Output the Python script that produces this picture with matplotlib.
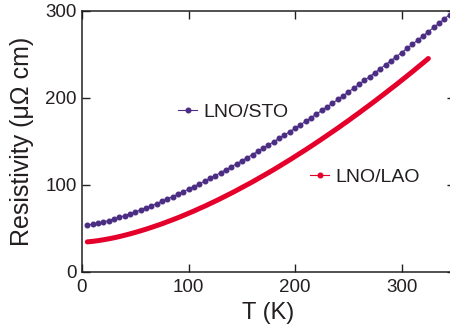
import matplotlib
matplotlib.use("Agg")
import matplotlib.pyplot as plt

plt.rcParams['font.family'] = ['Liberation Sans', 'DejaVu Sans']

# LNO/STO data (T in K, resistivity in µΩ cm)
T_sto = [5, 10, 15, 20, 25, 30, 35, 40, 45, 50, 55, 60, 65, 70, 75, 80, 85, 90, 95,
         100, 105, 110, 115, 120, 125, 130, 135, 140, 145, 150, 155, 160, 165, 170,
         175, 180, 185, 190, 195, 200, 205, 210, 215, 220, 225, 230, 235, 240, 245,
         250, 255, 260, 265, 270, 275, 280, 285, 290, 295, 300, 305, 310, 315, 320,
         325, 330, 335, 340, 345]
rho_sto = [53.6, 54.6, 55.9, 57.3, 58.9, 60.6, 62.5, 64.5, 66.5, 68.7, 71.0, 73.4,
           75.8, 78.3, 80.9, 83.6, 86.4, 89.2, 92.1, 95.0, 98.0, 101.1, 104.2, 107.4,
           110.6, 113.9, 117.3, 120.7, 124.1, 127.6, 131.2, 134.8, 138.4, 142.1, 145.8,
           149.6, 153.4, 157.3, 161.2, 165.2, 169.1, 173.2, 177.3, 181.4, 185.5, 189.7,
           193.9, 198.2, 202.5, 206.8, 211.2, 215.7, 220.1, 224.6, 229.1, 233.7, 238.3,
           242.9, 247.5, 252.2, 256.9, 261.7, 266.5, 271.3, 276.1, 281.0, 285.9, 290.9,
           295.9]

# LNO/LAO data
T_lao = [5, 10, 15, 20, 25, 30, 35, 40, 45, 50, 55, 60, 65, 70, 75, 80, 85, 90, 95,
         100, 105, 110, 115, 120, 125, 130, 135, 140, 145, 150, 155, 160, 165, 170,
         175, 180, 185, 190, 195, 200, 205, 210, 215, 220, 225, 230, 235, 240, 245,
         250, 255, 260, 265, 270, 275, 280, 285, 290, 295, 300, 305, 310, 315, 320, 325]
rho_lao = [34.3, 34.9, 35.7, 36.7, 37.8, 39.0, 40.4, 41.9, 43.5, 45.2, 47.0, 48.9,
           50.9, 53.0, 55.1, 57.4, 59.7, 62.1, 64.6, 67.2, 69.8, 72.6, 75.3, 78.2,
           81.1, 84.1, 87.2, 90.3, 93.5, 96.8, 100.1, 103.4, 106.9, 110.4, 113.9,
           117.5, 121.2, 125.0, 128.7, 132.6, 136.5, 140.4, 144.4, 148.5, 152.6,
           156.8, 161.0, 165.2, 169.6, 173.9, 178.4, 182.8, 187.4, 191.9, 196.5,
           201.2, 205.9, 210.7, 215.4, 220.3, 225.2, 230.1, 235.2, 240.2, 245.3]

x_ticks = [0, 100, 200, 300]
y_ticks = [0, 100, 200, 300]
labels = ["LNO/STO", "LNO/LAO"]

purple = "#4b2d83"
red = "#e5002b"
ink = "#231f20"

fig = plt.figure(figsize=(4.5, 3.31), dpi=100)
ax = fig.add_axes([0.1822, 0.1792, 0.8289, 0.7876])

l_sto, = ax.plot(T_sto, rho_sto, color=purple, lw=0.8, marker='o', ms=3.3,
                 mec=purple, mfc=purple)
ax.plot(T_lao, rho_lao, color=red, lw=3.6, solid_capstyle='round')
l_lao_h, = ax.plot([], [], color=red, lw=0.8, marker='o', ms=3.3)

ax.set_xlim(0, 350)
ax.set_ylim(0, 300)
ax.set_xticks(x_ticks)
ax.set_yticks(y_ticks)

for s in ax.spines.values():
    s.set_linewidth(1.1)
    s.set_color(ink)
ax.tick_params(direction='in', top=True, right=True, length=5.8, width=1.0,
               labelsize=13.5, colors=ink)
ax.tick_params(axis='y', pad=3.6)
ax.tick_params(axis='x', pad=5.5)
ax.set_xlabel("T (K)", fontsize=17, color=ink, labelpad=4)
ax.set_ylabel("Resistivity (\u03bc\u03a9 cm)", fontsize=18, color=ink, labelpad=8)

leg1 = ax.legend([l_sto], [labels[0]], loc='center left', bbox_to_anchor=(0.257, 0.6126),
                 frameon=False, fontsize=14, handlelength=1.0, handletextpad=0.3,
                 borderpad=0, borderaxespad=0, labelcolor=ink)
ax.add_artist(leg1)
ax.legend([l_lao_h], [labels[1]], loc='center left', bbox_to_anchor=(0.611, 0.362),
          frameon=False, fontsize=14, handlelength=1.0, handletextpad=0.3,
          borderpad=0, borderaxespad=0, labelcolor=ink)

fig.savefig("out.png", dpi=100)
